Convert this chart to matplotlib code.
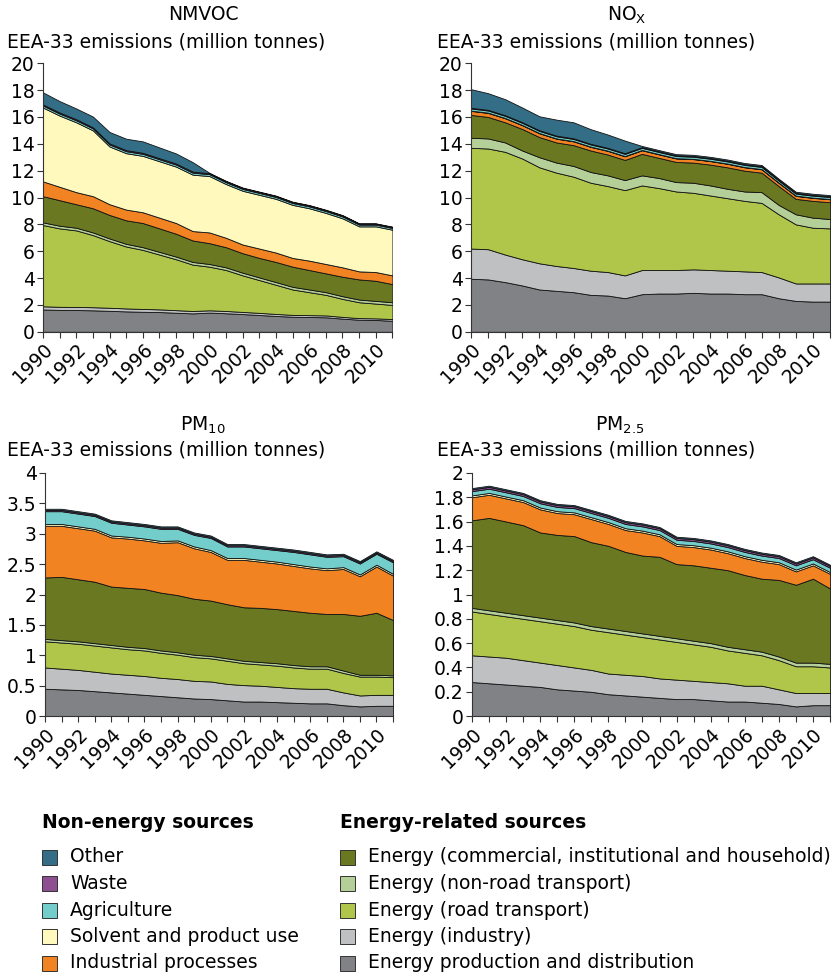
import numpy as np
import matplotlib.pyplot as plt
from matplotlib.patches import Rectangle
from matplotlib.ticker import FuncFormatter

plt.rcParams['font.family'] = ['DejaVu Sans']
plt.rcParams['mathtext.fontset'] = 'dejavusans'

years = np.arange(1990, 2012)

# stacking order, bottom to top
sources = ['Energy production and distribution', 'Energy (industry)',
           'Energy (road transport)', 'Energy (non-road transport)',
           'Energy (commercial, institutional and household)',
           'Industrial processes', 'Solvent and product use',
           'Agriculture', 'Waste', 'Other']
colors = ['#808285', '#bfc0c2', '#b0c64a', '#b5cf98', '#6a7822',
          '#f28323', '#fff9be', '#73cdca', '#8e4f92', '#336e86']

# NMVOC (million tonnes)
nmvoc_prod = [1.66, 1.63, 1.62, 1.60, 1.56, 1.52, 1.49, 1.47, 1.42, 1.37, 1.43,
              1.38, 1.32, 1.25, 1.18, 1.12, 1.10, 1.08, 0.98, 0.90, 0.88, 0.82]
nmvoc_industry = [0.24, 0.23, 0.23, 0.23, 0.23, 0.22, 0.21, 0.20, 0.19, 0.18, 0.17,
                  0.17, 0.16, 0.16, 0.15, 0.14, 0.14, 0.14, 0.13, 0.12, 0.12, 0.13]
nmvoc_road = [6.05, 5.84, 5.70, 5.37, 4.96, 4.61, 4.40, 4.08, 3.79, 3.45, 3.25,
              3.05, 2.72, 2.44, 2.17, 1.89, 1.71, 1.53, 1.34, 1.18, 1.10, 1.05]
nmvoc_nonroad = [0.20, 0.20, 0.20, 0.20, 0.20, 0.20, 0.20, 0.20, 0.20, 0.20, 0.20,
                 0.20, 0.20, 0.20, 0.20, 0.20, 0.20, 0.20, 0.20, 0.20, 0.20, 0.20]
nmvoc_commercial = [1.95, 1.90, 1.75, 1.80, 1.75, 1.75, 1.80, 1.75, 1.70, 1.60, 1.55,
                    1.50, 1.45, 1.45, 1.50, 1.50, 1.45, 1.40, 1.45, 1.50, 1.50, 1.35]
nmvoc_industrial = [1.10, 1.00, 0.90, 0.90, 0.80, 0.80, 0.80, 0.80, 0.80, 0.70, 0.80,
                    0.70, 0.65, 0.70, 0.70, 0.65, 0.70, 0.70, 0.70, 0.60, 0.65, 0.65]
nmvoc_solvent = [5.50, 5.30, 5.20, 4.90, 4.30, 4.20, 4.20, 4.20, 4.20, 4.20, 4.20,
                 4.00, 4.00, 4.00, 4.00, 3.95, 3.90, 3.80, 3.65, 3.35, 3.40, 3.40]
nmvoc_agri = [0.15, 0.15, 0.15, 0.15, 0.15, 0.15, 0.15, 0.15, 0.15, 0.15, 0.14,
              0.14, 0.14, 0.14, 0.14, 0.14, 0.14, 0.14, 0.14, 0.13, 0.13, 0.13]
nmvoc_waste = [0.08, 0.08, 0.08, 0.08, 0.08, 0.08, 0.08, 0.08, 0.08, 0.08, 0.07,
               0.07, 0.07, 0.07, 0.07, 0.07, 0.07, 0.07, 0.07, 0.07, 0.07, 0.07]
nmvoc_other = [0.90, 0.85, 0.80, 0.80, 0.85, 0.85, 0.85, 0.80, 0.75, 0.70, 0.03,
               0.03, 0.03, 0.03, 0.03, 0.03, 0.03, 0.03, 0.03, 0.03, 0.03, 0.03]

# NOx
nox_prod = [3.95, 3.90, 3.70, 3.45, 3.15, 3.05, 2.95, 2.75, 2.70, 2.50, 2.80,
            2.85, 2.85, 2.90, 2.85, 2.85, 2.80, 2.80, 2.50, 2.30, 2.25, 2.25]
nox_industry = [2.25, 2.25, 2.05, 1.95, 1.95, 1.85, 1.80, 1.80, 1.75, 1.70, 1.80,
                1.75, 1.75, 1.75, 1.75, 1.70, 1.70, 1.65, 1.55, 1.30, 1.35, 1.35]
nox_road = [7.50, 7.50, 7.65, 7.50, 7.15, 6.95, 6.80, 6.55, 6.40, 6.35, 6.30,
            6.10, 5.85, 5.70, 5.55, 5.40, 5.25, 5.15, 4.70, 4.40, 4.15, 4.10]
nox_nonroad = [0.75, 0.75, 0.70, 0.60, 0.75, 0.75, 0.80, 0.80, 0.80, 0.75, 0.75,
               0.75, 0.70, 0.75, 0.75, 0.70, 0.70, 0.80, 0.70, 0.75, 0.75, 0.70]
nox_commercial = [1.70, 1.60, 1.50, 1.60, 1.50, 1.50, 1.55, 1.60, 1.55, 1.50, 1.60,
                  1.50, 1.50, 1.50, 1.55, 1.60, 1.55, 1.45, 1.40, 1.15, 1.25, 1.25]
nox_industrial = [0.30, 0.30, 0.30, 0.28, 0.28, 0.28, 0.28, 0.27, 0.27, 0.27, 0.27,
                  0.26, 0.26, 0.26, 0.26, 0.26, 0.25, 0.25, 0.24, 0.22, 0.22, 0.22]
nox_solvent = [0.02, 0.02, 0.02, 0.02, 0.02, 0.02, 0.02, 0.02, 0.02, 0.02, 0.02,
               0.02, 0.02, 0.02, 0.02, 0.02, 0.02, 0.02, 0.02, 0.02, 0.02, 0.02]
nox_agri = [0.16, 0.16, 0.16, 0.16, 0.16, 0.16, 0.16, 0.16, 0.16, 0.16, 0.16,
            0.16, 0.16, 0.16, 0.16, 0.16, 0.16, 0.16, 0.15, 0.15, 0.15, 0.15]
nox_waste = [0.05, 0.05, 0.05, 0.05, 0.05, 0.05, 0.05, 0.05, 0.05, 0.05, 0.05,
             0.05, 0.05, 0.05, 0.05, 0.05, 0.05, 0.05, 0.05, 0.05, 0.05, 0.05]
nox_other = [1.39, 1.24, 1.19, 1.09, 1.04, 1.19, 1.19, 1.09, 0.99, 0.94, 0.09,
             0.09, 0.09, 0.09, 0.09, 0.09, 0.09, 0.09, 0.09, 0.09, 0.09, 0.09]

# PM10
pm10_prod = [0.45, 0.44, 0.43, 0.41, 0.39, 0.37, 0.35, 0.33, 0.31, 0.29, 0.28,
             0.26, 0.24, 0.24, 0.23, 0.22, 0.21, 0.21, 0.18, 0.16, 0.17, 0.17]
pm10_industry = [0.35, 0.34, 0.33, 0.32, 0.31, 0.31, 0.31, 0.30, 0.30, 0.29, 0.29,
                 0.27, 0.27, 0.26, 0.25, 0.24, 0.24, 0.24, 0.21, 0.18, 0.18, 0.18]
pm10_road = [0.43, 0.43, 0.43, 0.43, 0.43, 0.42, 0.42, 0.41, 0.40, 0.39, 0.38,
             0.38, 0.36, 0.35, 0.35, 0.34, 0.33, 0.33, 0.32, 0.31, 0.30, 0.29]
pm10_nonroad = [0.04, 0.04, 0.04, 0.04, 0.04, 0.04, 0.04, 0.04, 0.04, 0.04, 0.04,
                0.04, 0.04, 0.04, 0.04, 0.04, 0.04, 0.04, 0.04, 0.03, 0.03, 0.03]
pm10_commercial = [1.01, 1.04, 1.02, 1.01, 0.96, 0.97, 0.97, 0.95, 0.94, 0.92, 0.91,
                   0.89, 0.88, 0.89, 0.89, 0.89, 0.88, 0.86, 0.93, 0.97, 1.02, 0.91]
pm10_industrial = [0.85, 0.84, 0.84, 0.84, 0.81, 0.81, 0.80, 0.82, 0.87, 0.83, 0.80,
                   0.73, 0.78, 0.76, 0.75, 0.74, 0.73, 0.72, 0.74, 0.65, 0.76, 0.73]
pm10_solvent = [0.03, 0.03, 0.03, 0.03, 0.03, 0.03, 0.03, 0.03, 0.03, 0.03, 0.03,
                0.03, 0.03, 0.03, 0.03, 0.03, 0.03, 0.03, 0.03, 0.03, 0.03, 0.03]
pm10_agri = [0.21, 0.21, 0.21, 0.21, 0.21, 0.20, 0.20, 0.20, 0.19, 0.19, 0.20,
             0.19, 0.19, 0.19, 0.19, 0.20, 0.20, 0.19, 0.18, 0.18, 0.18, 0.19]
pm10_waste = [0.02, 0.02, 0.02, 0.02, 0.02, 0.02, 0.02, 0.02, 0.02, 0.02, 0.02,
              0.02, 0.02, 0.02, 0.02, 0.02, 0.02, 0.02, 0.02, 0.02, 0.02, 0.02]
pm10_other = [0.02, 0.02, 0.02, 0.02, 0.02, 0.02, 0.02, 0.02, 0.02, 0.02, 0.02,
              0.02, 0.02, 0.02, 0.02, 0.02, 0.02, 0.02, 0.02, 0.02, 0.02, 0.02]

# PM2.5
pm25_prod = [0.28, 0.27, 0.26, 0.25, 0.24, 0.22, 0.21, 0.20, 0.18, 0.17, 0.16,
             0.15, 0.14, 0.14, 0.13, 0.12, 0.12, 0.11, 0.10, 0.08, 0.09, 0.09]
pm25_industry = [0.22, 0.22, 0.22, 0.21, 0.20, 0.20, 0.19, 0.18, 0.17, 0.17, 0.17,
                 0.16, 0.16, 0.15, 0.15, 0.15, 0.13, 0.14, 0.12, 0.11, 0.10, 0.10]
pm25_road = [0.36, 0.35, 0.34, 0.34, 0.34, 0.34, 0.34, 0.33, 0.34, 0.33, 0.32,
             0.32, 0.31, 0.30, 0.29, 0.27, 0.27, 0.25, 0.24, 0.22, 0.22, 0.21]
pm25_nonroad = [0.03, 0.03, 0.03, 0.03, 0.03, 0.03, 0.03, 0.03, 0.03, 0.03, 0.03,
                0.03, 0.03, 0.03, 0.03, 0.03, 0.03, 0.03, 0.03, 0.03, 0.03, 0.03]
pm25_commercial = [0.72, 0.76, 0.75, 0.74, 0.70, 0.70, 0.71, 0.69, 0.68, 0.65, 0.64,
                   0.65, 0.61, 0.62, 0.62, 0.63, 0.61, 0.60, 0.63, 0.64, 0.69, 0.62]
pm25_industrial = [0.19, 0.19, 0.19, 0.19, 0.19, 0.18, 0.18, 0.19, 0.18, 0.18, 0.19,
                   0.17, 0.15, 0.15, 0.15, 0.14, 0.14, 0.14, 0.13, 0.11, 0.11, 0.12]
pm25_solvent = [0.015, 0.015, 0.015, 0.015, 0.015, 0.015, 0.015, 0.015, 0.015, 0.015, 0.015,
                0.015, 0.015, 0.015, 0.015, 0.015, 0.015, 0.015, 0.015, 0.015, 0.015, 0.015]
pm25_agri = [0.035, 0.035, 0.035, 0.035, 0.035, 0.035, 0.035, 0.035, 0.035, 0.035, 0.035,
             0.035, 0.035, 0.035, 0.035, 0.035, 0.035, 0.035, 0.035, 0.035, 0.035, 0.035]
pm25_waste = [0.015, 0.015, 0.015, 0.015, 0.015, 0.015, 0.015, 0.015, 0.015, 0.015, 0.015,
              0.015, 0.015, 0.015, 0.015, 0.015, 0.015, 0.015, 0.015, 0.015, 0.015, 0.015]
pm25_other = [0.01, 0.01, 0.01, 0.01, 0.01, 0.01, 0.01, 0.01, 0.01, 0.01, 0.01,
              0.01, 0.01, 0.01, 0.01, 0.01, 0.01, 0.01, 0.01, 0.01, 0.01, 0.01]

non_energy = ['Other', 'Waste', 'Agriculture', 'Solvent and product use',
              'Industrial processes']
energy = ['Energy (commercial, institutional and household)',
          'Energy (non-road transport)', 'Energy (road transport)',
          'Energy (industry)', 'Energy production and distribution']

panels = [
    ('NMVOC', [0.0514, 0.659, 0.418, 0.276], 20, 2,
     [nmvoc_prod, nmvoc_industry, nmvoc_road, nmvoc_nonroad, nmvoc_commercial,
      nmvoc_industrial, nmvoc_solvent, nmvoc_agri, nmvoc_waste, nmvoc_other],
     (203, 15), (7, 42)),
    ('NO$_\\mathregular{X}$', [0.5634, 0.659, 0.4294, 0.276], 20, 2,
     [nox_prod, nox_industry, nox_road, nox_nonroad, nox_commercial,
      nox_industrial, nox_solvent, nox_agri, nox_waste, nox_other],
     (627, 15), (437, 42)),
    ('PM$_{10}$', [0.0538, 0.264, 0.4163, 0.250], 4, 0.5,
     [pm10_prod, pm10_industry, pm10_road, pm10_nonroad, pm10_commercial,
      pm10_industrial, pm10_solvent, pm10_agri, pm10_waste, pm10_other],
     (203, 425), (7, 450)),
    ('PM$_{2.5}$', [0.5646, 0.264, 0.4282, 0.250], 2, 0.2,
     [pm25_prod, pm25_industry, pm25_road, pm25_nonroad, pm25_commercial,
      pm25_industrial, pm25_solvent, pm25_agri, pm25_waste, pm25_other],
     (620, 425), (437, 450)),
]

W, H = 836, 973
fig = plt.figure(figsize=(W / 100, H / 100), dpi=100)
fs = 13.5

for title, rect, ymax, ystep, series, tpos, lpos in panels:
    ax = fig.add_axes(rect)
    ax.stackplot(years, *series, colors=colors, edgecolor='#111111', linewidth=0.6)
    ax.set_xlim(1990, 2011)
    ax.set_ylim(0, ymax)
    ax.set_yticks(np.arange(0, ymax + ystep / 2, ystep))
    ax.yaxis.set_major_formatter(FuncFormatter(lambda v, p: f'{v:g}'))
    ax.set_xticks(years)
    ax.set_xticklabels([str(y) if y % 2 == 0 else '' for y in years],
                       rotation=45, ha='right', rotation_mode='anchor')
    ax.tick_params(labelsize=fs, direction='out', length=4, width=0.8,
                   color='#333333', pad=2)
    for s in ['top', 'right']:
        ax.spines[s].set_visible(False)
    for s in ['left', 'bottom']:
        ax.spines[s].set_color('#333333')
        ax.spines[s].set_linewidth(0.8)
    fig.text(tpos[0] / W, 1 - tpos[1] / H, title, ha='center', va='center', fontsize=fs)
    fig.text(lpos[0] / W, 1 - lpos[1] / H, 'EEA-33 emissions (million tonnes)',
             ha='left', va='center', fontsize=fs)


# legend blocks drawn as figure patches and text
def legend_block(names, title, x, y0):
    fig.text(x / W, 1 - y0 / H, title, ha='left', va='center',
             fontsize=fs, fontweight='bold')
    for i, name in enumerate(names):
        yc = y0 + 34 + i * 26.5
        fig.patches.append(Rectangle((x / W, 1 - (yc + 7.5) / H), 15 / W, 15 / H,
                                     facecolor=colors[sources.index(name)],
                                     edgecolor='#333333', linewidth=0.7,
                                     transform=fig.transFigure, figure=fig))
        fig.text((x + 28) / W, 1 - yc / H, name, ha='left', va='center', fontsize=fs)


legend_block(non_energy, 'Non-energy sources', 42, 823)
legend_block(energy, 'Energy-related sources', 340, 823)

fig.savefig('out.png', dpi=100)
